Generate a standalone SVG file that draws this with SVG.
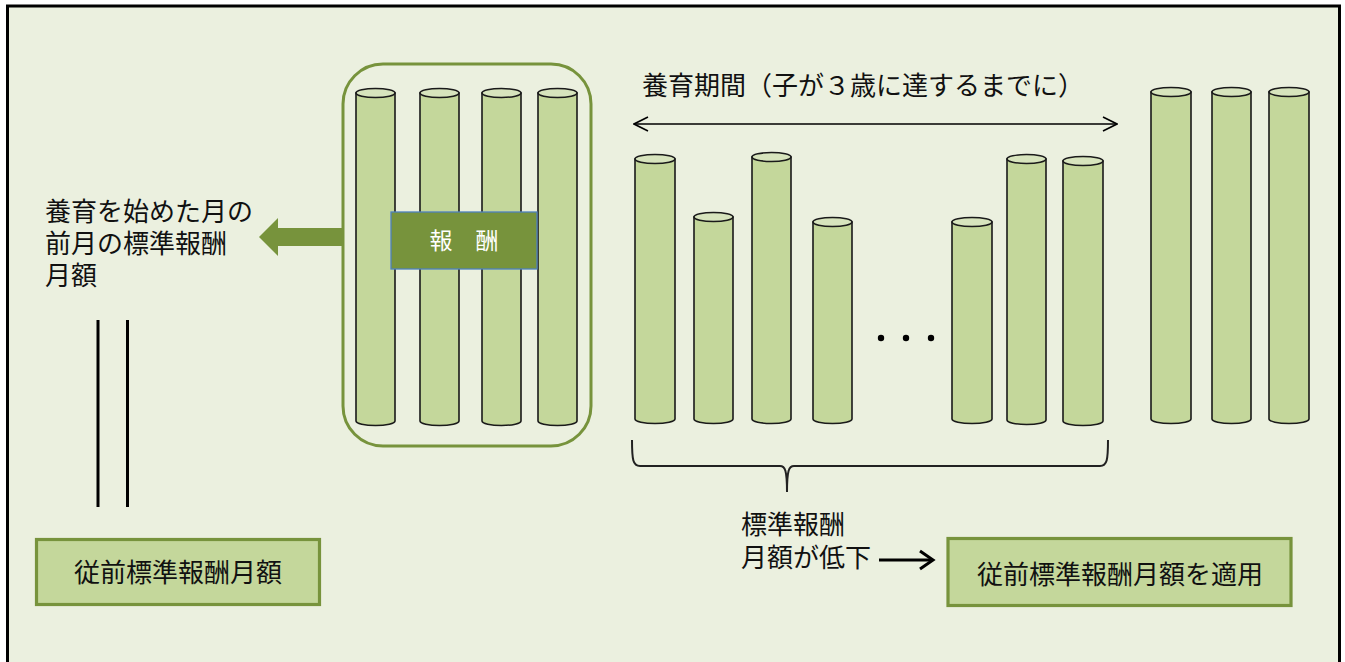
<svg xmlns="http://www.w3.org/2000/svg" width="1345" height="662" viewBox="0 0 1345 662">
<defs>
<style>
.txt{font-family:"Noto Sans CJK JP","Noto Sans CJK SC",sans-serif;fill:#111;}
.cyl path{fill:#C4D79B;stroke:#1a1a1a;stroke-width:1.6;}
.cyl ellipse{fill:#D7E4BD;stroke:#1a1a1a;stroke-width:1.6;}
.gbox{fill:#C4D79B;stroke:#77933C;stroke-width:3.2;}
</style>
<marker id="open" viewBox="0 0 16 16" refX="15" refY="8" markerWidth="16" markerHeight="16" markerUnits="userSpaceOnUse" orient="auto-start-reverse">
<path d="M1 1 L15 8 L1 15" fill="none" stroke="#000" stroke-width="1.6"/>
</marker>
</defs>
<rect x="0" y="0" width="1345" height="662" fill="#fff"/>
<rect x="7.5" y="6" width="1332" height="700" fill="#EBF0DF" stroke="#000" stroke-width="3"/>

<g id="group-box">
<rect x="343" y="64" width="248" height="382" rx="40" ry="40" fill="none" stroke="#77933C" stroke-width="3"/>
</g>

<g id="cylinders-before" class="cyl">
<path d="M356 93 V421 A19.5 4.5 0 0 0 395 421 V93 Z"/><ellipse cx="375.5" cy="93" rx="19.5" ry="4.5"/>
<path d="M420 93 V421 A19.5 4.5 0 0 0 459 421 V93 Z"/><ellipse cx="439.5" cy="93" rx="19.5" ry="4.5"/>
<path d="M482 93 V421 A19.5 4.5 0 0 0 521 421 V93 Z"/><ellipse cx="501.5" cy="93" rx="19.5" ry="4.5"/>
<path d="M538 93 V421 A19.5 4.5 0 0 0 577 421 V93 Z"/><ellipse cx="557.5" cy="93" rx="19.5" ry="4.5"/>
</g>

<g id="label-hoshu">
<rect x="391" y="212" width="146" height="57" fill="#77933C" stroke="#4F81BD" stroke-width="1.3"/>
<text x="464" y="249" text-anchor="middle" class="txt" style="fill:#fff" font-size="23">報　酬</text>
</g>

<g id="cylinders-period" class="cyl">
<path d="M635 159 V419 A20 4.5 0 0 0 675 419 V159 Z"/><ellipse cx="655" cy="159" rx="20" ry="4.5"/>
<path d="M694 217 V419 A19.5 4.5 0 0 0 733 419 V217 Z"/><ellipse cx="713.5" cy="217" rx="19.5" ry="4.5"/>
<path d="M752 157 V419 A19.5 4.5 0 0 0 791 419 V157 Z"/><ellipse cx="771.5" cy="157" rx="19.5" ry="4.5"/>
<path d="M813 222 V419 A19.5 4.5 0 0 0 852 419 V222 Z"/><ellipse cx="832.5" cy="222" rx="19.5" ry="4.5"/>
<path d="M952 222 V419 A20 4.5 0 0 0 992 419 V222 Z"/><ellipse cx="972" cy="222" rx="20" ry="4.5"/>
<path d="M1007 159 V420 A19.5 4.5 0 0 0 1046 420 V159 Z"/><ellipse cx="1026.5" cy="159" rx="19.5" ry="4.5"/>
<path d="M1063 161 V421 A20 4.5 0 0 0 1103 421 V161 Z"/><ellipse cx="1083" cy="161" rx="20" ry="4.5"/>
</g>

<g id="ellipsis">
<circle cx="881" cy="338" r="3.2" fill="#000"/>
<circle cx="906" cy="338" r="3.2" fill="#000"/>
<circle cx="931" cy="338" r="3.2" fill="#000"/>
</g>

<g id="cylinders-after" class="cyl">
<path d="M1151 92 V419 A20 4.5 0 0 0 1191 419 V92 Z"/><ellipse cx="1171" cy="92" rx="20" ry="4.5"/>
<path d="M1212 92 V419 A19.5 4.5 0 0 0 1251 419 V92 Z"/><ellipse cx="1231.5" cy="92" rx="19.5" ry="4.5"/>
<path d="M1269 92 V419 A20 4.5 0 0 0 1309 419 V92 Z"/><ellipse cx="1289" cy="92" rx="20" ry="4.5"/>
</g>

<g id="label-period">
<text x="642" y="95" class="txt" font-size="26">養育期間（子が３歳に達するまでに）</text>
</g>

<g id="label-left">
<text class="txt" font-size="26"><tspan x="45" y="221">養育を始めた月の</tspan><tspan x="45" y="253">前月の標準報酬</tspan><tspan x="45" y="285">月額</tspan></text>
</g>

<g id="equals">
<line x1="98" y1="320" x2="98" y2="507" stroke="#000" stroke-width="3"/>
<line x1="127.5" y1="320" x2="127.5" y2="507" stroke="#000" stroke-width="3"/>
</g>

<g id="box-left">
<rect class="gbox" x="36.5" y="539.5" width="283" height="65"/>
<text x="178" y="582" text-anchor="middle" class="txt" font-size="26">従前標準報酬月額</text>
</g>

<g id="label-decrease">
<text class="txt" font-size="26"><tspan x="741" y="534">標準報酬</tspan><tspan x="741" y="567">月額が低下</tspan></text>
</g>

<g id="box-right">
<rect class="gbox" x="948" y="538.5" width="343" height="67"/>
<text x="1120" y="584" text-anchor="middle" class="txt" font-size="26">従前標準報酬月額を適用</text>
</g>

<g id="connectors">
<polygon points="259,237 278,218 278,228 343,228 343,246 278,246 278,256" fill="#77933C"/>
<line x1="634" y1="124" x2="1117" y2="124" stroke="#000" stroke-width="1.6" marker-start="url(#open)" marker-end="url(#open)"/>
<path d="M632 440 C632 460 633 466 640 466 L780 466 C785 466 787 470 787 492 C787 470 789 466 794 466 L1100 466 C1107 466 1108 460 1108 440" fill="none" stroke="#222" stroke-width="2"/>
<line x1="879" y1="560" x2="931" y2="560" stroke="#000" stroke-width="3"/>
<path d="M920 551 L933 560 L920 569" fill="none" stroke="#000" stroke-width="3"/>
</g>
</svg>
